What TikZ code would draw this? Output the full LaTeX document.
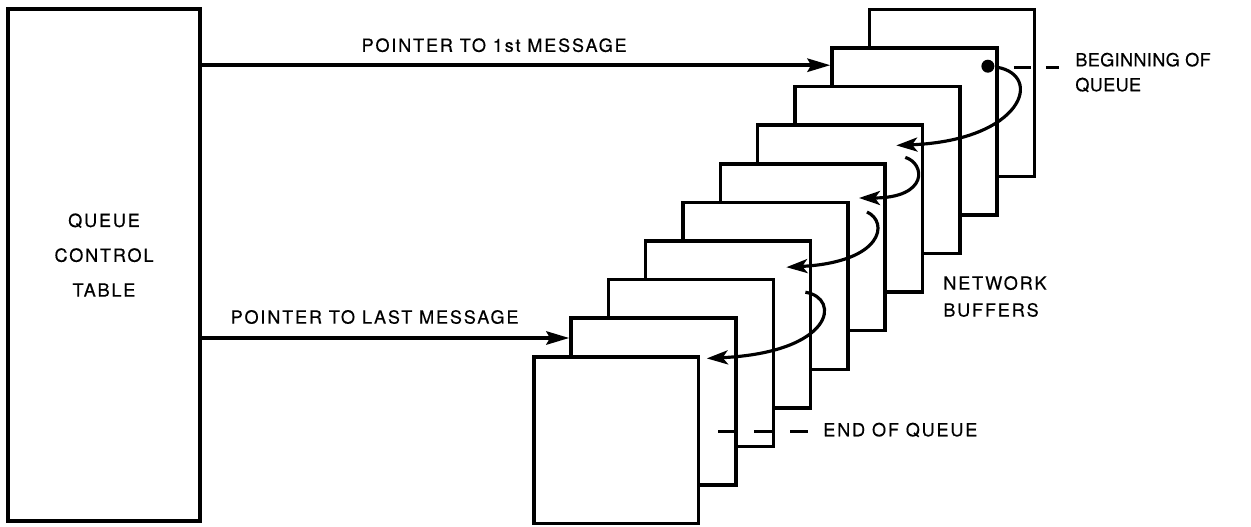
\documentclass[tikz,border=0pt]{standalone}
\usepackage{fontspec}
\setmainfont[LetterSpace=10, FakeBold=0.4]{TeX Gyre Heros}
\newfontfamily\plainfont[LetterSpace=2, FakeBold=0.4]{TeX Gyre Heros}
\usetikzlibrary{arrows.meta,positioning}

\tikzset{
    qtable/.style={draw, line width=2.2pt, minimum width=3.84cm, minimum height=10.24cm, inner sep=0pt},
    buffer/.style={draw, fill=white, line width=2pt, minimum width=3.3cm,
        minimum height=3.34cm, inner sep=0pt, anchor=north west},
    pointer/.style={line width=2.2pt, -{Stealth[length=13pt, width=7.5pt, inset=2pt]}},
    link/.style={line width=1.8pt, -{Stealth[length=12pt, width=8pt, inset=3pt]}},
    leader/.style={line width=1.9pt, dash pattern=on 0.34cm off 0.3cm},
    note/.style={inner sep=0pt, align=left, font=\fontsize{10.3}{14.2}\selectfont},
}

\begin{document}
\begin{tikzpicture}[x=0.02cm, y=-0.02cm]
    \useasboundingbox (0,0) rectangle (1251,527);

    \node[qtable] (qct) at (104,265) {};
    \node[note, align=center, font=\fontsize{10.3}{19.8}\selectfont] (qctname) at ([shift={(0,-10)}]qct.center) {QUEUE\\CONTROL\\TABLE};

    % network buffers, back to front
    \foreach \i in {9,8,...,0}
        \node[buffer] (b\i) at ({532+37.3*\i},{355-38.6*\i}) {};

    \fill ([shift={(-11,20)}]b8.north east) circle[radius=0.13cm];

    % pointers from the control table
    \coordinate (firstin) at ([shift={(0,19)}]b8.north west);
    \coordinate (lastin) at ([shift={(0,21.6)}]b1.north west);
    \draw[pointer] (qct.east |- firstin) -- node[pos=0.465, yshift=0.4cm, note] {POINTER TO 1st MESSAGE} (firstin);
    \draw[pointer] (qct.east |- lastin) -- node[pos=0.47, yshift=0.42cm, note] {POINTER TO LAST MESSAGE} (lastin);

    % chain through the buffers
    \draw[link] ([shift={(-2,21)}]b8.north east) .. controls +(47,8) and +(127,-5) .. ([shift={(-28,22)}]b6.north east);
    \draw[link] ([shift={(-19,34)}]b6.north east) .. controls +(20,6) and +(70,0) .. ([shift={(-28,36)}]b5.north east);
    \draw[link] ([shift={(-20,50)}]b5.north east) .. controls +(22,10) and +(97,-5) .. ([shift={(-26,28)}]b3.north east);
    \draw[link] ([shift={(-7,53)}]b3.north east) .. controls +(36,6) and +(127,-6) .. ([shift={(-31,42)}]b1.north east);

    % labels
    \node[note, anchor=west, font=\plainfont\fontsize{10.3}{14.2}\selectfont] (bq) at (1075,72.5) {BEGINNING OF\\QUEUE};
    \node[note, anchor=west, font=\fontsize{10.3}{15.3}\selectfont] (nb) at (943,296.5) {NETWORK\\BUFFERS};
    \node[note, anchor=west] (eq) at (823,430) {END OF QUEUE};

    \coordinate (qhead) at ([shift={(15,21)}]b8.north east);
    \coordinate (qtail) at ([shift={(18,-9)}]b0.east);
    \draw[leader, shorten >=0.32cm] (qhead) -- (qhead -| bq.west);
    \draw[leader, dash pattern=on 0.4cm off 0.32cm, shorten >=0.3cm] (qtail) -- (qtail -| eq.west);
\end{tikzpicture}
\end{document}
